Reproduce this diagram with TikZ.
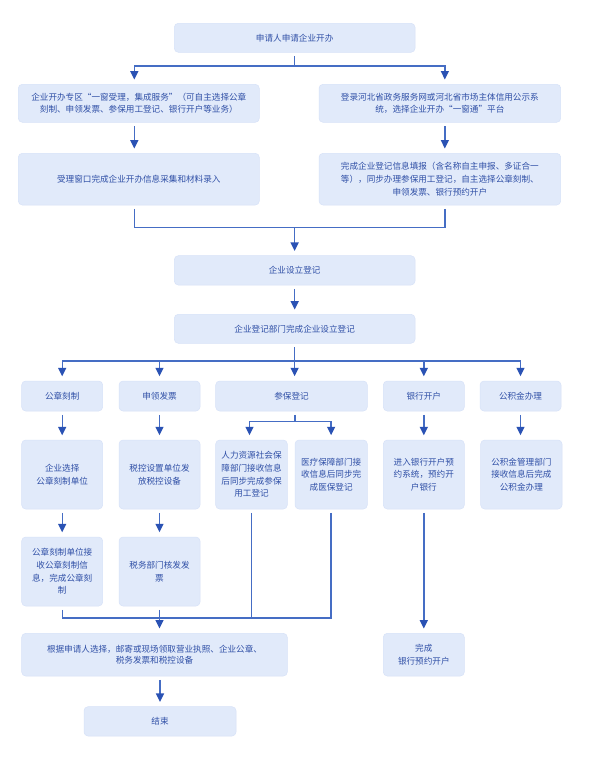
\documentclass[tikz,border=0pt]{standalone}
\usepackage{fontspec}
\newfontfamily\cjk{Noto Sans CJK SC}
\usetikzlibrary{arrows.meta}
\definecolor{boxfill}{HTML}{E1EAFA}
\definecolor{boxline}{HTML}{D7E2F8}
\definecolor{txt}{HTML}{2F4FA6}
\definecolor{lnc}{HTML}{456DC4}
\definecolor{arc}{HTML}{2A52B4}
\newcommand{\mybox}[7][]{\node[box,#1, minimum width={(#5-#3)*1pt}, minimum height={(#6-#4)*1pt}] (#2) at ({(#3+#5)/2},{-(#4+#6)/2}) {#7};}
\begin{document}
\begin{tikzpicture}[x=1pt,y=1pt,
 box/.style={draw=boxline, line width=0.5pt, fill=boxfill, rounded corners=4pt, text=txt, align=center, inner sep=0pt, font=\cjk\fontsize{8.6}{12.7}\selectfont},
 tight/.style={font=\cjk\fontsize{8.6}{11.5}\selectfont},
 ln/.style={draw=lnc, line width=1.4pt},
 arr/.style={ln, -{Triangle[length=8.5pt,width=8pt,color=arc]}, shorten >=4.5pt},
 st/.style={shorten <=3.5pt}]
\fill[white] (0,0) rectangle (590,-781);
\useasboundingbox (0,0) rectangle (590,-781);

\mybox{top}{174.3}{23.3}{415}{52.3}{申请人申请企业开办}
\mybox[tight]{L1}{18.3}{84.3}{259.3}{122.3}{企业开办专区“一窗受理，集成服务”（可自主选择公章\\刻制、申领发票、参保用工登记、银行开户等业务）}
\mybox[tight]{R1}{319}{84.3}{560.7}{122.3}{登录河北省政务服务网或河北省市场主体信用公示系\\统，选择企业开办“一窗通”平台}
\mybox{L2}{18.3}{153.3}{259.3}{205}{受理窗口完成企业开办信息采集和材料录入}
\mybox{R2}{319}{153.3}{560.7}{205}{完成企业登记信息填报（含名称自主申报、多证合一\\等），同步办理参保用工登记，自主选择公章刻制、\\申领发票、银行预约开户}
\mybox{reg}{174.3}{255.7}{415}{285}{企业设立登记}
\mybox{reg2}{174.3}{314.3}{415}{343.3}{企业登记部门完成企业设立登记}
\mybox{g1}{21.7}{381}{102.7}{411}{公章刻制}
\mybox{g2}{119}{381}{200}{411}{申领发票}
\mybox{g3}{215.7}{381}{367.3}{411}{参保登记}
\mybox{g4}{383.3}{381}{464.3}{411}{银行开户}
\mybox{g5}{480}{381}{561}{411}{公积金办理}
\mybox{h1}{21.7}{440}{102.7}{509}{企业选择\\公章刻制单位}
\mybox{h2}{119}{440}{200}{509}{税控设置单位发\\放税控设备}
\mybox{h3}{215.7}{440}{287.3}{509}{人力资源社会保\\障部门接收信息\\后同步完成参保\\用工登记}
\mybox{h4}{295}{440}{367.3}{509}{医疗保障部门接\\收信息后同步完\\成医保登记}
\mybox{h5}{383.3}{440}{464.3}{509}{进入银行开户预\\约系统，预约开\\户银行}
\mybox{h6}{480.7}{440}{562}{509}{公积金管理部门\\接收信息后完成\\公积金办理}
\mybox{k1}{21.7}{537}{102.7}{606}{公章刻制单位接\\收公章刻制信\\息，完成公章刻\\制}
\mybox{k2}{119}{537}{200}{606}{税务部门核发发\\票}
\mybox[tight]{m1}{21.7}{633.3}{287.3}{676}{根据申请人选择，邮寄或现场领取营业执照、企业公章、\\税务发票和税控设备}
\mybox{m2}{383.3}{633.3}{464.3}{676}{完成\\银行预约开户}
\mybox{end}{84}{706.7}{236}{736}{结束}

\path (top.south) ++(0,-13.4) coordinate (j1);
\path (reg.north) ++(0,28) coordinate (j2);
\path (reg2.south) ++(0,-17.4) coordinate (j3);
\path (g3.south) ++(3.5,-10) coordinate (j4);
\path (k2.south) ++(0,-11.7) coordinate (j5);

\draw[ln,st] (top.south) -- (j1);
\draw[arr] (j1) -| ([xshift=-4.5pt]L1.north);
\draw[arr] (j1) -| ([xshift=5pt]R1.north);
\draw[arr,st] ([xshift=-4.5pt]L1.south) -- ([xshift=-4.5pt]L2.north);
\draw[arr,st] ([xshift=5pt]R1.south) -- ([xshift=5pt]R2.north);
\draw[ln,st] ([xshift=-4.5pt]L2.south) |- (j2);
\draw[ln,st] ([xshift=5pt]R2.south) |- (j2);
\draw[arr] (j2) -- (reg.north);
\draw[arr,st] (reg.south) -- (reg2.north);
\draw[ln,st] (reg2.south) -- (j3);
\draw[arr] (j3) -| (g1.north);
\draw[arr] (j3) -| (g2.north);
\draw[arr] (j3) -- (j3 |- g3.north);
\draw[arr] (j3) -| (g4.north);
\draw[arr] (j3) -| (g5.north);
\draw[arr,st] (g1.south) -- (h1.north);
\draw[arr,st] (g2.south) -- (h2.north);
\draw[arr,st] (g4.south) -- (h5.north);
\draw[arr,st] (g5.south) -- (g5.south |- h6.north);
\draw[ln,st] (g3.south -| j4) -- (j4);
\draw[arr] (j4) -| ([xshift=-2pt]h3.north);
\draw[arr] (j4) -| (h4.north);
\draw[arr,st] (h1.south) -- (k1.north);
\draw[arr,st] (h2.south) -- (k2.north);
\draw[ln,st] (k1.south) |- (j5);
\draw[ln,st] (h4.south) |- (j5);
\draw[ln,st] (h3.south) -- (h3.south |- j5);
\draw[arr,st] (k2.south) -- (k2.south |- m1.north);
\draw[arr,st] (h5.south) -- (m2.north);
\draw[arr,st] (m1.south -| end.north) -- (end.north);
\end{tikzpicture}
\end{document}
